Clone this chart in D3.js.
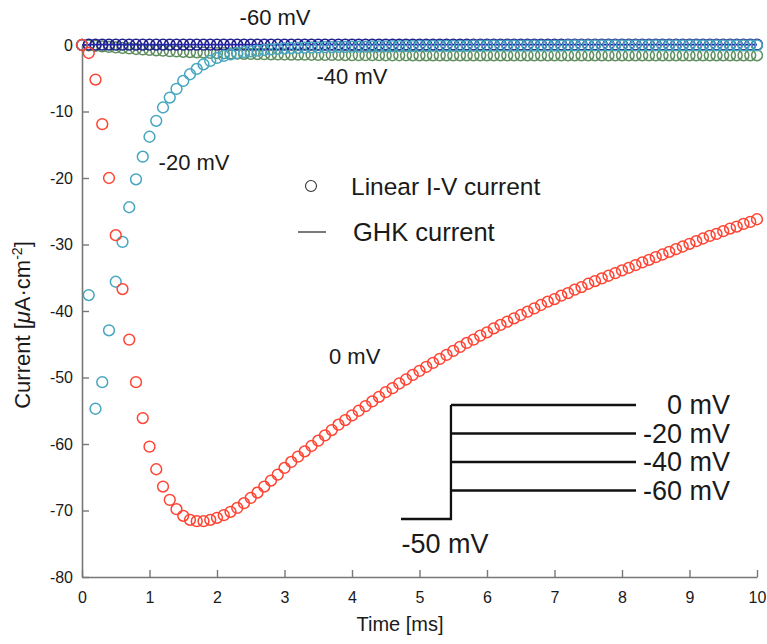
<!DOCTYPE html>
<html>
<head>
<meta charset="utf-8">
<script src="https://cdn.jsdelivr.net/npm/d3@7"></script>
<style>
  html, body { margin: 0; padding: 0; background: #fff; }
  svg { display: block; font-family: "Liberation Sans", Arial, Helvetica, sans-serif; }
</style>
</head>
<body>
<svg id="chart" width="767" height="644"></svg>
<script>
// Sampling interval of the simulated traces (ms)
const sampleStep = 0.1;

// Linear I-V current for each test potential (µA/cm²), one sample every 0.1 ms, t = 0 … 10 ms
const current0mV = [
  0, -1.2, -5.2, -11.9, -20.0, -28.6, -36.7, -44.3, -50.7, -56.1,
  -60.4, -63.8, -66.4, -68.4, -69.8, -70.8, -71.4, -71.6, -71.6, -71.4,
  -71.1, -70.7, -70.2, -69.6, -68.9, -68.1, -67.3, -66.4, -65.5, -64.6,
  -63.6, -62.7, -61.9, -61.1, -60.3, -59.5, -58.7, -57.9, -57.1, -56.4,
  -55.7, -55.0, -54.3, -53.6, -52.9, -52.2, -51.6, -50.9, -50.3, -49.6,
  -49.0, -48.4, -47.8, -47.2, -46.6, -46.0, -45.4, -44.8, -44.3, -43.7,
  -43.2, -42.6, -42.1, -41.6, -41.1, -40.6, -40.1, -39.6, -39.1, -38.6,
  -38.2, -37.7, -37.3, -36.8, -36.4, -35.9, -35.5, -35.1, -34.7, -34.3,
  -33.9, -33.5, -33.1, -32.7, -32.3, -31.9, -31.5, -31.1, -30.7, -30.3,
  -29.9, -29.5, -29.1, -28.7, -28.4, -28.0, -27.6, -27.3, -26.9, -26.6,
  -26.2
];
const currentM20mV = [
  0, -37.6, -54.7, -50.7, -42.9, -35.6, -29.6, -24.4, -20.2, -16.8,
  -13.8, -11.4, -9.4, -7.9, -6.6, -5.4, -4.4, -3.6, -2.9, -2.4,
  -1.95, -1.65, -1.4, -1.2, -1.05, -0.95, -0.85, -0.75, -0.66, -0.58,
  -0.5, -0.46, -0.43, -0.4, -0.37, -0.35, -0.33, -0.31, -0.29, -0.27,
  -0.25, -0.24, -0.23, -0.22, -0.21, -0.2, -0.19, -0.18, -0.17, -0.16,
  -0.15, -0.15, -0.14, -0.14, -0.13, -0.13, -0.12, -0.12, -0.11, -0.11,
  -0.1, -0.1, -0.1, -0.09, -0.09, -0.09, -0.09, -0.08, -0.08, -0.08,
  -0.08, -0.08, -0.07, -0.07, -0.07, -0.07, -0.07, -0.07, -0.06, -0.06,
  -0.06, -0.06, -0.06, -0.06, -0.06, -0.05, -0.05, -0.05, -0.05, -0.05,
  -0.05, -0.05, -0.05, -0.05, -0.05, -0.05, -0.05, -0.05, -0.05, -0.05,
  -0.05
];
const currentM40mV = [
  0, -0.05, -0.12, -0.2, -0.28, -0.36, -0.44, -0.52, -0.6, -0.67,
  -0.74, -0.8, -0.86, -0.92, -0.97, -1.02, -1.06, -1.1, -1.14, -1.18,
  -1.21, -1.24, -1.27, -1.3, -1.32, -1.34, -1.36, -1.38, -1.4, -1.41,
  -1.43, -1.44, -1.45, -1.46, -1.47, -1.48, -1.49, -1.5, -1.5, -1.51,
  -1.52, -1.52, -1.53, -1.53, -1.53, -1.54, -1.54, -1.54, -1.54, -1.55,
  -1.55, -1.55, -1.55, -1.55, -1.55, -1.55, -1.55, -1.55, -1.55, -1.55,
  -1.55, -1.55, -1.55, -1.55, -1.55, -1.55, -1.55, -1.55, -1.55, -1.55,
  -1.55, -1.55, -1.55, -1.55, -1.55, -1.55, -1.55, -1.55, -1.55, -1.55,
  -1.55, -1.55, -1.55, -1.55, -1.55, -1.55, -1.55, -1.55, -1.55, -1.55,
  -1.55, -1.55, -1.55, -1.55, -1.55, -1.55, -1.55, -1.55, -1.55, -1.55,
  -1.55
];
const currentM60mV = [
  0, 0.05, 0.05, 0.05, 0.05, 0.05, 0.05, 0.05, 0.05, 0.05,
  0.05, 0.05, 0.05, 0.05, 0.05, 0.05, 0.05, 0.05, 0.05, 0.05,
  0.05, 0.05, 0.05, 0.05, 0.05, 0.05, 0.05, 0.05, 0.05, 0.05,
  0.05, 0.05, 0.05, 0.05, 0.05, 0.05, 0.05, 0.05, 0.05, 0.05,
  0.05, 0.05, 0.05, 0.05, 0.05, 0.05, 0.05, 0.05, 0.05, 0.05,
  0.05, 0.05, 0.05, 0.05, 0.05, 0.05, 0.05, 0.05, 0.05, 0.05,
  0.05, 0.05, 0.05, 0.05, 0.05, 0.05, 0.05, 0.05, 0.05, 0.05,
  0.05, 0.05, 0.05, 0.05, 0.05, 0.05, 0.05, 0.05, 0.05, 0.05,
  0.05, 0.05, 0.05, 0.05, 0.05, 0.05, 0.05, 0.05, 0.05, 0.05,
  0.05, 0.05, 0.05, 0.05, 0.05, 0.05, 0.05, 0.05, 0.05, 0.05,
  0.05
];

// Series: test potential, colour, in-plot label and its anchor (data coords)
const seriesNames  = ["-60 mV", "-40 mV", "-20 mV", "0 mV"];
const seriesColors = ["#1e1e8c", "#5f8f5f", "#47a6bf", "#ff4433"];
const seriesValues = [currentM60mV, currentM40mV, currentM20mV, current0mV];
const seriesLabelT = [2.86, 4.0, 1.66, 4.04];
const seriesLabelI = [4.2, -4.8, -17.7, -46.8];

// Axis ticks
const xTicks = [0, 1, 2, 3, 4, 5, 6, 7, 8, 9, 10];
const yTicks = [0, -10, -20, -30, -40, -50, -60, -70, -80];

// Voltage protocol inset: holding potential and test steps (mV)
const holdingPotential = -50;
const stepPotentials = [0, -20, -40, -60];
const protocolTimes = [-2.7, 0, 10];   // hold start, step onset, step end (ms)

const svg = d3.select("#chart");
const x = d3.scaleLinear().domain([0, 10]).range([82, 757]);
const y = d3.scaleLinear().domain([-80, 0]).range([577, 45]);

const axisColor = "#777";
const textColor = "#1a1a1a";
const plain = d => String(d);

// Axes
const xAxis = svg.append("g").attr("transform", `translate(0,${y(-80)})`)
  .call(d3.axisBottom(x).tickValues(xTicks).tickSizeInner(-7).tickSizeOuter(0).tickPadding(15).tickFormat(plain));
const yAxis = svg.append("g").attr("transform", `translate(${x(0)},0)`)
  .call(d3.axisLeft(y).tickValues(yTicks).tickSizeInner(-7).tickSizeOuter(0).tickPadding(9).tickFormat(plain));
[xAxis, yAxis].forEach(g => {
  g.select(".domain").attr("stroke", axisColor).attr("stroke-width", 1.6);
  g.selectAll(".tick line").attr("stroke", axisColor).attr("stroke-width", 1.4);
  g.selectAll(".tick text").attr("fill", textColor).attr("font-size", 16)
    .attr("font-family", "'Liberation Sans', Arial, sans-serif");
});

// Axis titles
svg.append("text").attr("x", 400).attr("y", 631)
  .attr("text-anchor", "middle").attr("font-size", 20).attr("fill", textColor)
  .text("Time [ms]");
const yTitle = svg.append("text")
  .attr("transform", `translate(30,325) rotate(-90)`)
  .attr("text-anchor", "middle").attr("font-size", 22).attr("fill", textColor);
yTitle.append("tspan").text("Current [");
yTitle.append("tspan").attr("font-style", "italic").text("\u03bc");
yTitle.append("tspan").text("A\u00b7cm");
yTitle.append("tspan").attr("font-size", 14).attr("dy", -8).text("-2");
yTitle.append("tspan").attr("dy", 8).text("]");

// Traces: hollow circle markers, one per sample
const drawOrder = [1, 0, 2, 3];
drawOrder.forEach(k => {
  const vals = seriesValues[k];
  svg.append("g").selectAll("circle").data(vals).join("circle")
    .attr("cx", (d, i) => x(i * sampleStep))
    .attr("cy", d => y(d))
    .attr("r", 5.4)
    .attr("fill", "none")
    .attr("stroke", seriesColors[k])
    .attr("stroke-width", 1.5);
  if (k === 0) {
    // GHK current at -60 mV, drawn as a solid line through the markers
    svg.append("path").datum(vals)
      .attr("d", d3.line().x((d, i) => x(i * sampleStep)).y(d => y(d)))
      .attr("fill", "none").attr("stroke", "#2222aa").attr("stroke-width", 1.6);
  }
});

// Trace labels
seriesNames.forEach((name, k) => {
  svg.append("text").attr("x", x(seriesLabelT[k])).attr("y", y(seriesLabelI[k]))
    .attr("text-anchor", "middle").attr("dominant-baseline", "central")
    .attr("font-size", 22).attr("fill", textColor).text(name);
});

// Legend
const legend = svg.append("g");
legend.append("circle").attr("cx", 311).attr("cy", 186).attr("r", 5.5)
  .attr("fill", "none").attr("stroke", "#333").attr("stroke-width", 1.1);
legend.append("line").attr("x1", 298).attr("x2", 326).attr("y1", 232).attr("y2", 232)
  .attr("stroke", "#222").attr("stroke-width", 1.2);
legend.append("text").attr("x", 351).attr("y", 186).attr("dominant-baseline", "central")
  .attr("font-size", 24.5).attr("fill", textColor).text("Linear I-V current");
legend.append("text").attr("x", 353).attr("y", 232).attr("dominant-baseline", "central")
  .attr("font-size", 25.5).attr("fill", textColor).text("GHK current");

// Voltage protocol inset
const px = d3.scaleLinear().domain([protocolTimes[0], protocolTimes[2]]).range([401, 636]);
const py = d3.scalePoint().domain([...stepPotentials, holdingPotential]).range([405, 519]);
const inset = svg.append("g").attr("stroke", "#111").attr("stroke-width", 2.3).attr("fill", "none");
inset.append("path").attr("d", d3.line()([
  [px(protocolTimes[0]), py(holdingPotential)],
  [px(protocolTimes[1]), py(holdingPotential)],
  [px(protocolTimes[1]), py(stepPotentials[0])]
]));
stepPotentials.forEach(v => {
  inset.append("line")
    .attr("x1", px(protocolTimes[1])).attr("x2", px(protocolTimes[2]))
    .attr("y1", py(v)).attr("y2", py(v));
});
stepPotentials.forEach(v => {
  svg.append("text").attr("x", 730).attr("y", py(v))
    .attr("text-anchor", "end").attr("dominant-baseline", "central")
    .attr("font-size", 27).attr("fill", textColor).text(`${v} mV`);
});
svg.append("text").attr("x", 445).attr("y", py(holdingPotential) + 25)
  .attr("text-anchor", "middle").attr("dominant-baseline", "central")
  .attr("font-size", 27).attr("fill", textColor).text(`${holdingPotential} mV`);
</script>
</body>
</html>
